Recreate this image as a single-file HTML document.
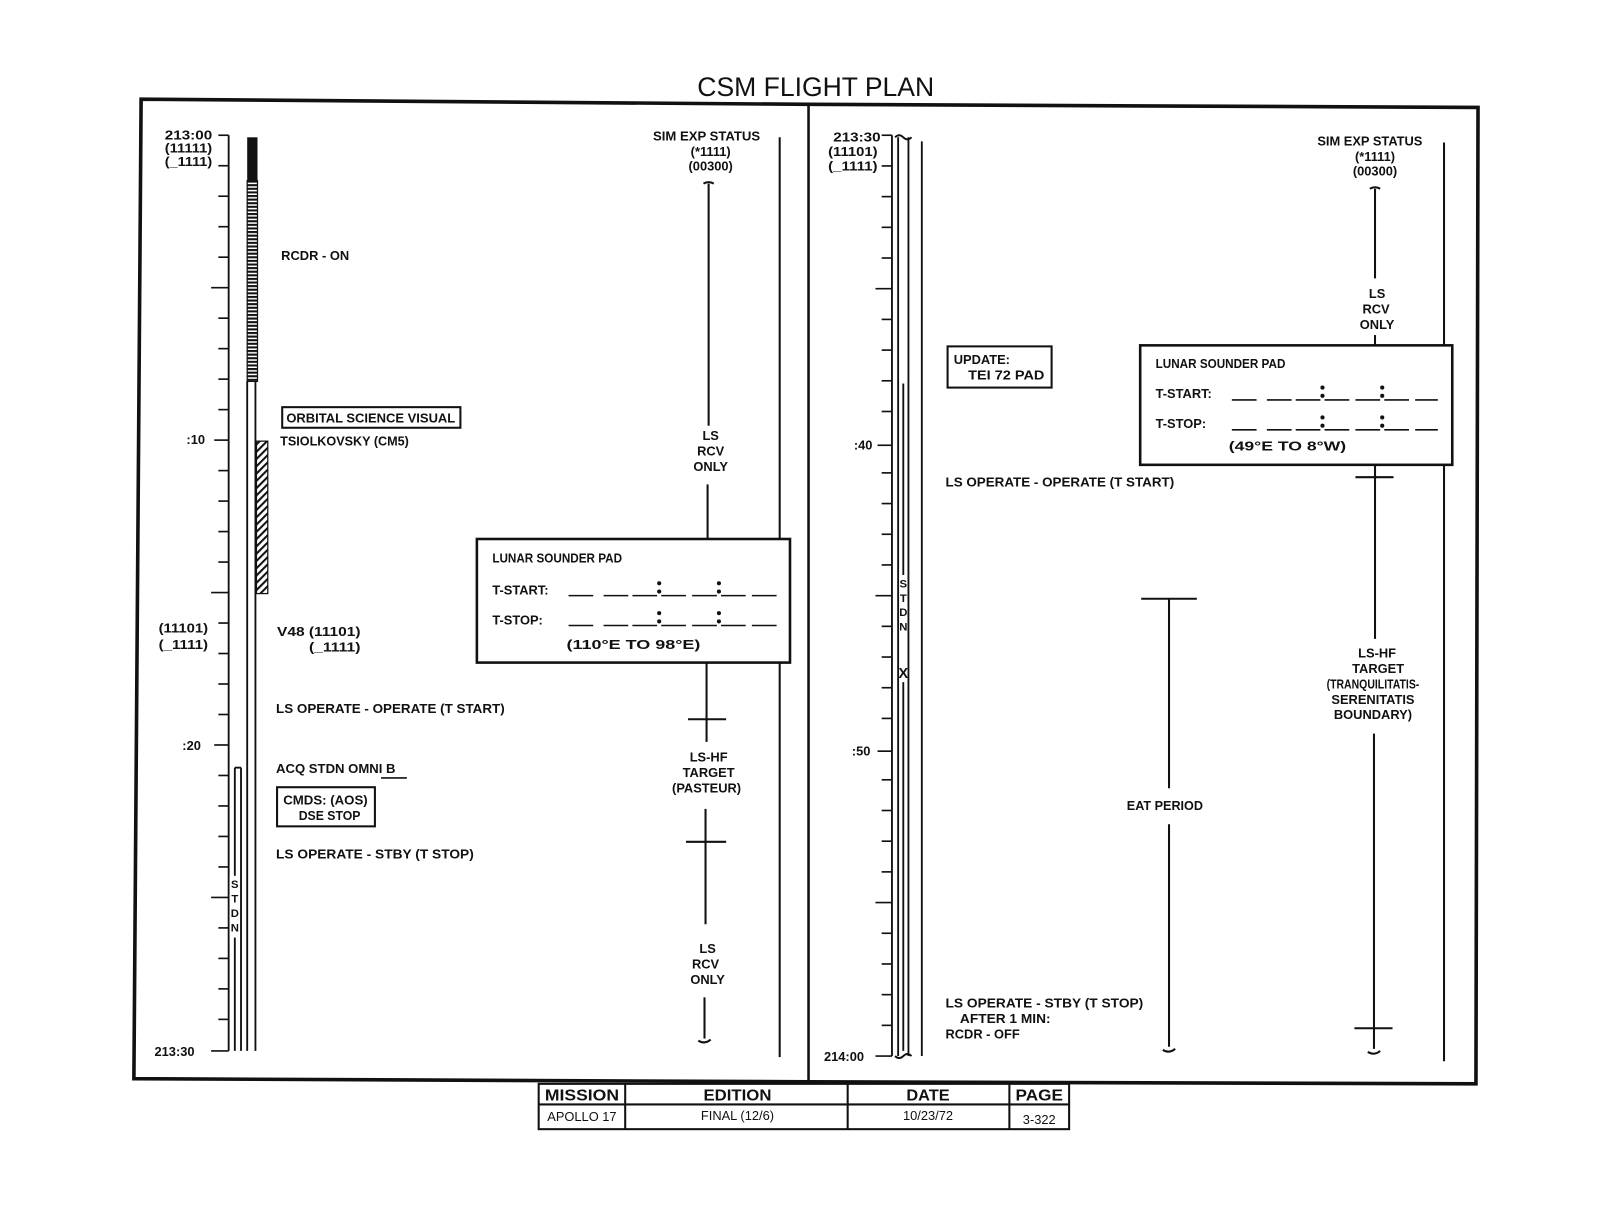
<!DOCTYPE html>
<html><head><meta charset="utf-8"><style>
html,body{margin:0;padding:0;background:#fff}
svg{display:block}
text{font-family:"Liberation Sans",sans-serif;font-weight:bold;font-size:12.5px;fill:#111}
.m{text-anchor:middle}
</style></head><body>
<svg width="1615" height="1216" viewBox="0 0 1568 1180" xmlns="http://www.w3.org/2000/svg">
<defs>
<pattern id="hz" width="4" height="3.5" patternUnits="userSpaceOnUse"><rect width="4" height="3.5" fill="#fff"/><rect width="4" height="2" fill="#111"/></pattern>
<pattern id="dg" width="5" height="5" patternUnits="userSpaceOnUse" patternTransform="rotate(45)"><rect width="5" height="5" fill="#fff"/><rect width="2" height="5" fill="#111"/></pattern>
</defs>
<text x="792" y="93" class="m" style="font-size:26px;font-weight:normal" textLength="230" lengthAdjust="spacingAndGlyphs">CSM FLIGHT PLAN</text>
<g fill="none" stroke="#111">
<path d="M137 96 L785 101 L1435 104 L1433 1052 L785 1050 L130 1047 Z" stroke-width="3.5"/>
<line x1="785" y1="101" x2="785" y2="1050" stroke-width="2.5"/>
</g>
<!-- LEFT AXIS -->
<g stroke="#111" stroke-width="1.8" fill="none">
<line x1="222" y1="131" x2="222" y2="1020"/>
<path id="tl" d=""/>
</g>
<g stroke="#111" stroke-width="1.6">
<line x1="212" y1="131" x2="222" y2="131"/><line x1="212" y1="160.6" x2="222" y2="160.6"/><line x1="212" y1="190.2" x2="222" y2="190.2"/><line x1="212" y1="219.8" x2="222" y2="219.8"/><line x1="212" y1="249.4" x2="222" y2="249.4"/><line x1="205" y1="279" x2="222" y2="279"/><line x1="212" y1="308.6" x2="222" y2="308.6"/><line x1="212" y1="338.2" x2="222" y2="338.2"/><line x1="212" y1="367.8" x2="222" y2="367.8"/><line x1="212" y1="397.4" x2="222" y2="397.4"/><line x1="208" y1="427" x2="222" y2="427"/><line x1="212" y1="456.6" x2="222" y2="456.6"/><line x1="212" y1="486.2" x2="222" y2="486.2"/><line x1="212" y1="515.8" x2="222" y2="515.8"/><line x1="212" y1="545.4" x2="222" y2="545.4"/><line x1="205" y1="575" x2="222" y2="575"/><line x1="212" y1="604.6" x2="222" y2="604.6"/><line x1="212" y1="634.2" x2="222" y2="634.2"/><line x1="212" y1="663.8" x2="222" y2="663.8"/><line x1="212" y1="693.4" x2="222" y2="693.4"/><line x1="208" y1="723" x2="222" y2="723"/><line x1="212" y1="752.6" x2="222" y2="752.6"/><line x1="212" y1="782.2" x2="222" y2="782.2"/><line x1="212" y1="811.8" x2="222" y2="811.8"/><line x1="212" y1="841.4" x2="222" y2="841.4"/><line x1="205" y1="871" x2="222" y2="871"/><line x1="212" y1="900.6" x2="222" y2="900.6"/><line x1="212" y1="930.2" x2="222" y2="930.2"/><line x1="212" y1="959.8" x2="222" y2="959.8"/><line x1="212" y1="989.4" x2="222" y2="989.4"/><line x1="205" y1="1020" x2="222" y2="1020"/>
</g>
<!-- left bars -->
<rect x="240" y="133" width="10" height="42" fill="#111"/>
<rect x="240" y="175" width="10" height="195" fill="url(#hz)" stroke="#111" stroke-width="1.2"/>
<g stroke="#111" stroke-width="1.8"><line x1="240" y1="370" x2="240" y2="1020"/><line x1="248" y1="370" x2="248" y2="1020"/>
<line x1="228" y1="745" x2="228" y2="1020"/><line x1="234" y1="745" x2="234" y2="1020"/><line x1="228" y1="745" x2="234" y2="745"/></g>
<rect x="249" y="428" width="11" height="148" fill="url(#dg)" stroke="#111" stroke-width="1.2"/>
<rect x="223" y="850" width="10" height="60" fill="#fff"/>
<text x="228" y="862" class="m" style="font-size:11px">S</text><text x="228" y="876" class="m" style="font-size:11px">T</text><text x="228" y="890" class="m" style="font-size:11px">D</text><text x="228" y="904" class="m" style="font-size:11px">N</text>
<text x="160" y="135" textLength="46" lengthAdjust="spacingAndGlyphs">213:00</text>
<text x="160" y="148" textLength="46" lengthAdjust="spacingAndGlyphs">(11111)</text>
<text x="160" y="161" textLength="46" lengthAdjust="spacingAndGlyphs">(_1111)</text>
<text x="181" y="431">:10</text><text x="177" y="728">:20</text><text x="150" y="1025">213:30</text>
<text x="154" y="614" textLength="48" lengthAdjust="spacingAndGlyphs">(11101)</text>
<text x="154" y="630" textLength="48" lengthAdjust="spacingAndGlyphs">(_1111)</text>
<text x="273" y="252" textLength="66" lengthAdjust="spacingAndGlyphs">RCDR - ON</text>
<rect x="274" y="395" width="173" height="20" fill="none" stroke="#111" stroke-width="2"/>
<text x="278" y="410" textLength="164" lengthAdjust="spacingAndGlyphs">ORBITAL SCIENCE VISUAL</text>
<text x="272" y="432" textLength="125" lengthAdjust="spacingAndGlyphs">TSIOLKOVSKY (CM5)</text>
<text x="269" y="617" textLength="81" lengthAdjust="spacingAndGlyphs">V48 (11101)</text>
<text x="300" y="632" textLength="50" lengthAdjust="spacingAndGlyphs">(_1111)</text>
<text x="268" y="692" textLength="222" lengthAdjust="spacingAndGlyphs">LS OPERATE - OPERATE (T START)</text>
<text x="268" y="750" textLength="116" lengthAdjust="spacingAndGlyphs">ACQ STDN OMNI  B</text>
<line x1="370" y1="755" x2="395" y2="755" stroke="#111" stroke-width="1.5"/>
<rect x="269" y="764" width="95" height="38" fill="none" stroke="#111" stroke-width="2"/>
<text x="275" y="781" textLength="82" lengthAdjust="spacingAndGlyphs">CMDS: (AOS)</text>
<text x="290" y="796" textLength="60" lengthAdjust="spacingAndGlyphs">DSE STOP</text>
<text x="268" y="833" textLength="192" lengthAdjust="spacingAndGlyphs">LS OPERATE - STBY (T STOP)</text>
<!-- left SIM column -->
<text x="686" y="136" class="m" textLength="104" lengthAdjust="spacingAndGlyphs">SIM EXP STATUS</text>
<text x="690" y="151" class="m">(*1111)</text><text x="690" y="165" class="m">(00300)</text>
<g stroke="#111" stroke-width="2" fill="none">
<path d="M683 178 q5 -3 10 0"/>
<line x1="688" y1="178" x2="688" y2="413"/>
<line x1="687" y1="470" x2="687" y2="523"/>
<line x1="686" y1="643" x2="686" y2="720"/><line x1="668" y1="698" x2="705" y2="698"/>
<line x1="685" y1="785" x2="685" y2="897"/><line x1="666" y1="817" x2="705" y2="817"/>
<line x1="684" y1="968" x2="684" y2="1008"/><path d="M678 1010 q6 4 12 -1"/>
<line x1="757" y1="133" x2="757" y2="1026"/>
</g>
<text x="690" y="427" class="m">LS</text><text x="690" y="442" class="m">RCV</text><text x="690" y="457" class="m">ONLY</text>
<text x="688" y="739" class="m">LS-HF</text><text x="688" y="754" class="m">TARGET</text><text x="686" y="769" class="m">(PASTEUR)</text>
<text x="687" y="925" class="m">LS</text><text x="685" y="940" class="m">RCV</text><text x="687" y="955" class="m">ONLY</text>
<rect x="463" y="523" width="304" height="120" fill="#fff" stroke="#111" stroke-width="2.5"/>
<text x="478" y="546" textLength="126" lengthAdjust="spacingAndGlyphs">LUNAR SOUNDER PAD</text>
<text x="478" y="577">T-START:</text><text x="478" y="606">T-STOP:</text>
<g stroke="#111" stroke-width="1.5"><path d="M552 578h24M586 578h24M614 578h24M642 578h24M672 578h24M700 578h24M730 578h24M552 607h24M586 607h24M614 607h24M642 607h24M672 607h24M700 607h24M730 607h24"/></g>
<g fill="#111"><circle cx="640" cy="566" r="2"/><circle cx="640" cy="574" r="2"/><circle cx="698" cy="566" r="2"/><circle cx="698" cy="574" r="2"/><circle cx="640" cy="595" r="2"/><circle cx="640" cy="603" r="2"/><circle cx="698" cy="595" r="2"/><circle cx="698" cy="603" r="2"/></g>
<text x="550" y="630" textLength="130" lengthAdjust="spacingAndGlyphs">(110°E TO 98°E)</text>
<!-- RIGHT AXIS -->
<g stroke="#111" stroke-width="1.8" fill="none">
<line x1="866" y1="131" x2="866" y2="1025"/>
<line x1="872" y1="133" x2="872" y2="1025"/><line x1="882" y1="133" x2="882" y2="1025"/>
<path d="M869 133 q4 -4 8 0 q4 4 8 0"/><path d="M869 1025 q4 4 8 0 q4 -4 8 0"/>
<line x1="877" y1="372" x2="877" y2="558"/><line x1="877" y1="662" x2="877" y2="1020"/>
<line x1="895" y1="137" x2="895" y2="1025"/>
</g>
<g stroke="#111" stroke-width="1.6">
<line x1="856" y1="131" x2="866" y2="131"/><line x1="856" y1="160.8" x2="866" y2="160.8"/><line x1="856" y1="190.6" x2="866" y2="190.6"/><line x1="856" y1="220.4" x2="866" y2="220.4"/><line x1="856" y1="250.2" x2="866" y2="250.2"/><line x1="850" y1="280" x2="866" y2="280"/><line x1="856" y1="309.8" x2="866" y2="309.8"/><line x1="856" y1="339.6" x2="866" y2="339.6"/><line x1="856" y1="369.4" x2="866" y2="369.4"/><line x1="856" y1="399.2" x2="866" y2="399.2"/><line x1="852" y1="432" x2="866" y2="432"/><line x1="856" y1="458.8" x2="866" y2="458.8"/><line x1="856" y1="488.6" x2="866" y2="488.6"/><line x1="856" y1="518.4" x2="866" y2="518.4"/><line x1="856" y1="548.2" x2="866" y2="548.2"/><line x1="850" y1="578" x2="866" y2="578"/><line x1="856" y1="607.8" x2="866" y2="607.8"/><line x1="856" y1="637.6" x2="866" y2="637.6"/><line x1="856" y1="667.4" x2="866" y2="667.4"/><line x1="856" y1="697.2" x2="866" y2="697.2"/><line x1="852" y1="729" x2="866" y2="729"/><line x1="856" y1="756.8" x2="866" y2="756.8"/><line x1="856" y1="786.6" x2="866" y2="786.6"/><line x1="856" y1="816.4" x2="866" y2="816.4"/><line x1="856" y1="846.2" x2="866" y2="846.2"/><line x1="850" y1="876" x2="866" y2="876"/><line x1="856" y1="905.8" x2="866" y2="905.8"/><line x1="856" y1="935.6" x2="866" y2="935.6"/><line x1="856" y1="965.4" x2="866" y2="965.4"/><line x1="856" y1="995.2" x2="866" y2="995.2"/><line x1="850" y1="1025" x2="866" y2="1025"/>
</g>
<text x="877" y="570" class="m" style="font-size:11px">S</text><text x="877" y="584" class="m" style="font-size:11px">T</text><text x="877" y="598" class="m" style="font-size:11px">D</text><text x="877" y="612" class="m" style="font-size:11px">N</text><text x="877" y="658" class="m" style="font-size:14px">X</text>
<text x="809" y="137" textLength="46" lengthAdjust="spacingAndGlyphs">213:30</text>
<text x="804" y="151" textLength="48" lengthAdjust="spacingAndGlyphs">(11101)</text>
<text x="804" y="165" textLength="48" lengthAdjust="spacingAndGlyphs">(_1111)</text>
<text x="829" y="436">:40</text><text x="827" y="733">:50</text><text x="800" y="1030">214:00</text>
<rect x="920" y="336" width="101" height="40" fill="none" stroke="#111" stroke-width="2"/>
<text x="926" y="353">UPDATE:</text><text x="940" y="368" textLength="74" lengthAdjust="spacingAndGlyphs">TEI 72 PAD</text>
<text x="918" y="472" textLength="222" lengthAdjust="spacingAndGlyphs">LS OPERATE - OPERATE (T START)</text>
<text x="918" y="978" textLength="192" lengthAdjust="spacingAndGlyphs">LS OPERATE - STBY (T STOP)</text>
<text x="932" y="993" textLength="88" lengthAdjust="spacingAndGlyphs">AFTER 1 MIN:</text>
<text x="918" y="1008" textLength="72" lengthAdjust="spacingAndGlyphs">RCDR - OFF</text>
<g stroke="#111" stroke-width="2" fill="none">
<line x1="1108" y1="581" x2="1162" y2="581"/><line x1="1135" y1="581" x2="1135" y2="765"/>
<line x1="1135" y1="800" x2="1135" y2="1016"/><path d="M1129 1019 q6 4 12 -1"/>
<path d="M1330 183 q5 -3 10 0"/><line x1="1335" y1="183" x2="1335" y2="270"/>
<line x1="1335" y1="325" x2="1335" y2="335"/>
<line x1="1316" y1="463" x2="1353" y2="463"/><line x1="1335" y1="451" x2="1335" y2="620"/>
<line x1="1334" y1="712" x2="1334" y2="1018"/><line x1="1315" y1="998" x2="1352" y2="998"/><path d="M1328 1021 q6 4 12 -1"/>
<line x1="1402" y1="138" x2="1402" y2="1030"/>
</g>
<text x="1131" y="786" class="m" textLength="74" lengthAdjust="spacingAndGlyphs">EAT PERIOD</text>
<text x="1330" y="141" class="m" textLength="102" lengthAdjust="spacingAndGlyphs">SIM EXP STATUS</text>
<text x="1335" y="156" class="m">(*1111)</text><text x="1335" y="170" class="m">(00300)</text>
<text x="1337" y="289" class="m">LS</text><text x="1336" y="304" class="m">RCV</text><text x="1337" y="319" class="m">ONLY</text>
<rect x="1107" y="335" width="303" height="116" fill="#fff" stroke="#111" stroke-width="2.5"/>
<text x="1122" y="357" textLength="126" lengthAdjust="spacingAndGlyphs">LUNAR SOUNDER PAD</text>
<text x="1122" y="386">T-START:</text><text x="1122" y="415">T-STOP:</text>
<g stroke="#111" stroke-width="1.5"><path d="M1196 388h24M1230 388h24M1258 388h24M1286 388h24M1316 388h24M1344 388h24M1374 388h22M1196 417h24M1230 417h24M1258 417h24M1286 417h24M1316 417h24M1344 417h24M1374 417h22"/></g>
<g fill="#111"><circle cx="1284" cy="376" r="2"/><circle cx="1284" cy="384" r="2"/><circle cx="1342" cy="376" r="2"/><circle cx="1342" cy="384" r="2"/><circle cx="1284" cy="405" r="2"/><circle cx="1284" cy="413" r="2"/><circle cx="1342" cy="405" r="2"/><circle cx="1342" cy="413" r="2"/></g>
<text x="1193" y="437" textLength="114" lengthAdjust="spacingAndGlyphs">(49°E TO 8°W)</text>
<text x="1337" y="638" class="m">LS-HF</text><text x="1338" y="653" class="m">TARGET</text>
<text x="1333" y="668" class="m" textLength="90" lengthAdjust="spacingAndGlyphs">(TRANQUILITATIS-</text>
<text x="1333" y="683" class="m">SERENITATIS</text><text x="1333" y="698" class="m">BOUNDARY)</text>
<!-- table -->
<g stroke="#111" stroke-width="2" fill="none">
<rect x="523" y="1052" width="515" height="44"/>
<line x1="523" y1="1072" x2="1038" y2="1072"/>
<line x1="607" y1="1052" x2="607" y2="1096"/><line x1="823" y1="1052" x2="823" y2="1096"/><line x1="980" y1="1052" x2="980" y2="1096"/>
</g>
<g style="font-size:15px">
<text x="565" y="1068" class="m" style="font-size:15px" textLength="72" lengthAdjust="spacingAndGlyphs">MISSION</text>
<text x="716" y="1068" class="m" style="font-size:15px" textLength="66" lengthAdjust="spacingAndGlyphs">EDITION</text>
<text x="901" y="1068" class="m" style="font-size:15px" textLength="42" lengthAdjust="spacingAndGlyphs">DATE</text>
<text x="1009" y="1068" class="m" style="font-size:15px" textLength="46" lengthAdjust="spacingAndGlyphs">PAGE</text>
</g>
<text x="565" y="1088" class="m" style="font-weight:normal">APOLLO 17</text>
<text x="716" y="1087" class="m" style="font-weight:normal">FINAL (12/6)</text>
<text x="901" y="1087" class="m" style="font-weight:normal">10/23/72</text>
<text x="1009" y="1091" class="m" style="font-weight:normal">3-322</text>
</svg>
</body></html>
